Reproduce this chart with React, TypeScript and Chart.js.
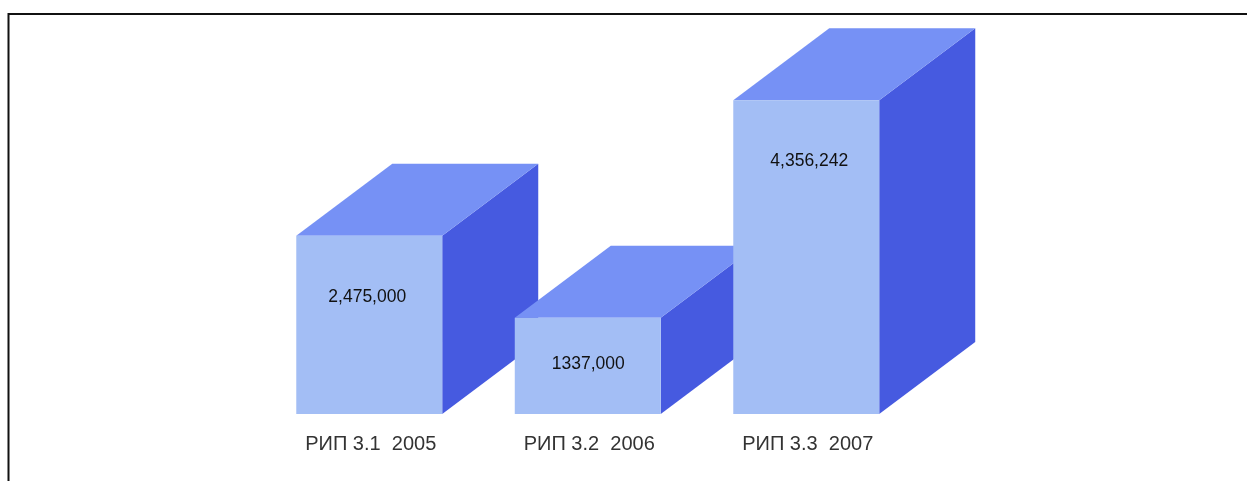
import React, { useEffect, useRef } from "react";
import { Chart, registerables } from "chart.js";

Chart.register(...registerables);

const categories = ["РИП 3.1  2005", "РИП 3.2  2006", "РИП 3.3  2007"];
const values = [2475000, 1337000, 4356242];
const valueLabels = ["2,475,000", "1337,000", "4,356,242"];

const FRONT = "#A3BEF5";
const TOP = "#7691F5";
const SIDE = "#465AE0";
const DEPTH_X = 96;
const DEPTH_Y = 72;

const box3d = {
  id: "box3d",
  beforeDatasetsDraw(chart: any) {
    const { ctx } = chart;
    const meta = chart.getDatasetMeta(0);
    ctx.save();
    ctx.beginPath();
    ctx.rect(0, 27, chart.width, chart.height - 27);
    ctx.clip();
    meta.data.forEach((bar: any) => {
      const half = bar.width / 2;
      const l = bar.x - half;
      const r = bar.x + half;
      const t = bar.y;
      const b = bar.base;
      ctx.fillStyle = SIDE;
      ctx.beginPath();
      ctx.moveTo(r, t);
      ctx.lineTo(r + DEPTH_X, t - DEPTH_Y);
      ctx.lineTo(r + DEPTH_X, b - DEPTH_Y);
      ctx.lineTo(r, b);
      ctx.closePath();
      ctx.fill();
      ctx.fillStyle = TOP;
      ctx.beginPath();
      ctx.moveTo(l, t);
      ctx.lineTo(l + DEPTH_X, t - DEPTH_Y);
      ctx.lineTo(r + DEPTH_X, t - DEPTH_Y);
      ctx.lineTo(r, t);
      ctx.closePath();
      ctx.fill();
    });
    ctx.restore();
  },
  afterDatasetsDraw(chart: any) {
    const { ctx } = chart;
    const meta = chart.getDatasetMeta(0);
    ctx.save();
    ctx.fillStyle = "#111111";
    ctx.font = "17.5px 'Liberation Sans'";
    ctx.textAlign = "center";
    ctx.textBaseline = "middle";
    meta.data.forEach((bar: any, i: number) => {
      const h = bar.base - bar.y;
      // the source's labels drift rightwards across the bars
      const drift = -2 + i * 2.5;
      ctx.fillText(valueLabels[i], bar.x + drift, bar.y + Math.min(61, h * 0.48));
    });
    ctx.restore();
  },
  afterDraw(chart: any) {
    const { ctx } = chart;
    ctx.save();
    ctx.strokeStyle = "#111111";
    ctx.lineWidth = 2;
    ctx.beginPath();
    ctx.moveTo(8.5, chart.height);
    ctx.lineTo(8.5, 14);
    ctx.lineTo(chart.width, 14);
    ctx.stroke();
    ctx.restore();
  },
};

export default function App() {
  const ref = useRef<HTMLCanvasElement>(null);
  useEffect(() => {
    const chart = new Chart(ref.current!, {
      type: "bar",
      data: {
        labels: categories,
        datasets: [
          {
            data: values,
            backgroundColor: FRONT,
            barPercentage: 1,
            categoryPercentage: 0.668,
          },
        ],
      },
      options: {
        animation: false,
        responsive: false,
        layout: { padding: { left: 260, right: 331.5, top: 54, bottom: 0 } },
        plugins: { legend: { display: false }, tooltip: { enabled: false }, title: { display: false } },
        scales: {
          x: {
            grid: { display: false },
            border: { display: false },
            afterFit: (s: any) => {
              s.height = 67;
            },
            ticks: {
              color: "#333333",
              padding: 10,
              labelOffset: 1.5,
              maxRotation: 0,
              autoSkip: false,
              font: { family: "'Liberation Sans'", size: 20 },
            },
          },
          y: { display: false, min: 0, max: 5000000 },
        },
      },
      plugins: [box3d],
    });
    return () => chart.destroy();
  }, []);
  return (
    <div style={{ position: "fixed", left: 0, top: 0, width: 1247, height: 481, background: "#fff" }}>
      <canvas ref={ref} width={1247} height={481} style={{ display: "block" }} />
    </div>
  );
}
